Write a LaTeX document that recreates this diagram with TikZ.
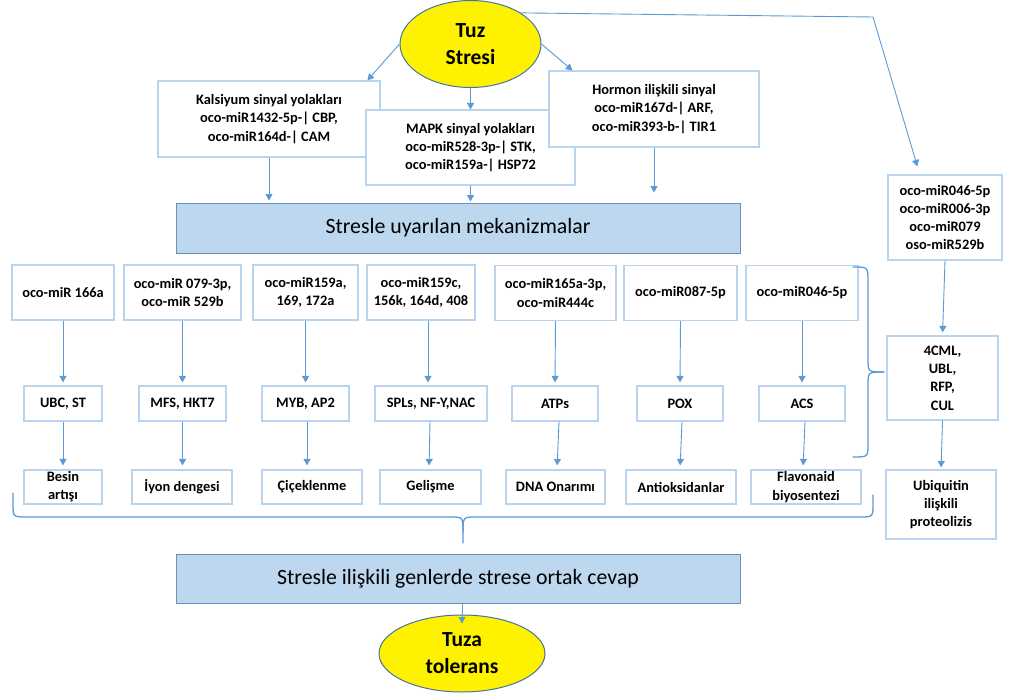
\documentclass[tikz,border=0pt]{standalone}
\usepackage{fontspec}
\setmainfont{Carlito}
\usetikzlibrary{shapes.geometric,arrows.meta,calc}
\definecolor{boxc}{RGB}{185,212,238}
\definecolor{arrc}{RGB}{91,155,213}
\definecolor{bluefill}{RGB}{189,215,238}
\definecolor{bluebd}{RGB}{105,145,190}
\definecolor{ellbd}{RGB}{70,115,160}
\begin{document}
\begin{tikzpicture}[x=1pt,y=-1pt,
  box/.style={draw=boxc, line width=1.2pt, fill=white, align=center, inner sep=0pt,
    font=\bfseries\fontsize{14.4}{18.3}\selectfont},
  bluebox/.style={draw=bluebd, fill=bluefill, line width=1pt, inner sep=0pt,
    font=\fontsize{21.8}{26}\selectfont},
  ell/.style={ellipse, draw=ellbd, fill=yellow, line width=1pt, align=center, inner sep=0pt,
    font=\bfseries\fontsize{21.5}{27}\selectfont},
  arr/.style={draw=arrc, line width=0.9pt, -{Triangle[width=7pt,length=6.5pt]}},
  brace/.style={draw=arrc, line width=1.3pt, line cap=round}
]
\fill[white] (0,0) rectangle (1009,693);
\useasboundingbox (0,0) rectangle (1009,693);

% top
\node[ell, minimum width=141pt, minimum height=87pt] (tuz) at (470.5,44) {Tuz\\Stresi};
\node[box, minimum width=222pt, minimum height=76pt] (kal) at (269,119)
  {Kalsiyum sinyal yolakları\\oco-miR1432-5p-| CBP,\\oco-miR164d-| CAM};
\node[box, minimum width=209pt, minimum height=75pt] (mapk) at (470.5,147.5)
  {MAPK sinyal yolakları\\oco-miR528-3p-| STK,\\oco-miR159a-| HSP72};
\node[box, minimum width=210pt, minimum height=76pt] (horm) at (654,109)
  {Hormon ilişkili sinyal\\oco-miR167d-| ARF,\\oco-miR393-b-| TIR1};

\node[bluebox, minimum width=564pt, minimum height=50pt] (b1) at (458,228)
  {Stresle uyarılan mekanizmalar};

% right column
\node[box, minimum width=114pt, minimum height=85pt] (tr) at (945,217.5)
  {oco-miR046-5p\\oco-miR006-3p\\oco-miR079\\oso-miR529b};
\node[box, minimum width=111pt, minimum height=84pt] (cml) at (942.5,378)
  {4CML,\\UBL,\\RFP,\\CUL};
\node[box, minimum width=110pt, minimum height=69pt] (ubi) at (941,504.5)
  {Ubiquitin\\ilişkili\\proteolizis};

% row 1
\node[box, minimum width=102pt, minimum height=55pt] (r1a) at (63,292.5) {oco-miR 166a};
\node[box, minimum width=117pt, minimum height=55pt] (r1b) at (182.5,292.5) {oco-miR 079-3p,\\oco-miR 529b};
\node[box, minimum width=105pt, minimum height=55pt] (r1c) at (305.5,292.5) {oco-miR159a,\\169, 172a};
\node[box, minimum width=108pt, minimum height=55pt] (r1d) at (421,292.5) {oco-miR159c,\\156k, 164d, 408};
\node[box, minimum width=121pt, minimum height=55pt] (r1e) at (555.5,293) {oco-miR165a-3p,\\oco-miR444c};
\node[box, minimum width=113pt, minimum height=55pt] (r1f) at (680.5,293) {oco-miR087-5p};
\node[box, minimum width=112pt, minimum height=55pt] (r1g) at (802,293) {oco-miR046-5p};

% row 2
\node[box, minimum width=78pt, minimum height=35pt] (r2a) at (63,403.5) {UBC, ST};
\node[box, minimum width=87pt, minimum height=35pt] (r2b) at (182.5,403.5) {MFS, HKT7};
\node[box, minimum width=87pt, minimum height=35pt] (r2c) at (305.5,403.5) {MYB, AP2};
\node[box, minimum width=112pt, minimum height=35pt] (r2d) at (431,403.5) {SPLs, NF-Y,NAC};
\node[box, minimum width=86pt, minimum height=35pt] (r2e) at (555,403.5) {ATPs};
\node[box, minimum width=86pt, minimum height=35pt] (r2f) at (680,403.5) {POX};
\node[box, minimum width=86pt, minimum height=35pt] (r2g) at (802,403.5) {ACS};

% row 3
\node[box, minimum width=78pt, minimum height=34pt] (r3a) at (63,487) {Besin\\artışı};
\node[box, minimum width=100pt, minimum height=34pt] (r3b) at (182,487) {İyon dengesi};
\node[box, minimum width=100pt, minimum height=34pt] (r3c) at (312,487) {Çiçeklenme};
\node[box, minimum width=101pt, minimum height=34pt] (r3d) at (430.5,487) {Gelişme};
\node[box, minimum width=99pt, minimum height=34pt] (r3e) at (555.5,487) {DNA Onarımı};
\node[box, minimum width=110pt, minimum height=34pt] (r3f) at (681,487) {Antioksidanlar};
\node[box, minimum width=110pt, minimum height=34pt] (r3g) at (806,487) {Flavonaid\\biyosentezi};

% bottom
\node[bluebox, minimum width=564pt, minimum height=49pt] (b2) at (458,578.5)
  {Stresle ilişkili genlerde strese ortak cevap};
\node[ell, minimum width=166pt, minimum height=77pt] (tol) at (462,653.5) {Tuza\\tolerans};

% arrows from top ellipse
\draw[arr] (tuz.west) -- ($(kal.north west)+(210,0)$);
\draw[arr] (tuz.south) -- (mapk.north);
\draw[arr] (tuz.east) -- ($(horm.north west)+(24,0)$);
\coordinate (kink) at (873,17);
\draw[arr] (tuz.north east) -- (kink) -- ($(tr.north west)+(30,-8)$);

% to blue box 1
\draw[arr, shorten >=2pt] (kal.south) -- (kal.south |- b1.north);
\draw[arr, shorten >=1pt] (mapk.south) -- (mapk.south |- b1.north);
\draw[arr, shorten >=10pt] (horm.south) -- (horm.south |- b1.north);

% right column arrows
\draw[arr, shorten >=3pt] (tr.south) -- (cml.north);
\draw[arr, shorten >=2pt] (cml.south) -- (ubi.north);

% row1 -> row2
\draw[arr, shorten >=3pt] (r1a.south) -- (r2a.north);
\draw[arr, shorten >=3pt] (r1b.south) -- (r2b.north);
\draw[arr, shorten >=3pt] (r1c.south) -- (r2c.north);
\draw[arr, shorten >=3pt] ($(r1d.south)+(7,0)$) -- ($(r2d.north)+(-3,0)$);
\draw[arr, shorten >=3pt] (r1e.south) -- (r2e.north);
\draw[arr, shorten >=3pt] (r1f.south) -- (r2f.north);
\draw[arr, shorten >=3pt] (r1g.south) -- (r2g.north);

% row2 -> row3
\draw[arr, shorten >=4pt] (r2a.south) -- (r2a.south |- r3a.north);
\draw[arr, shorten >=4pt] (r2b.south) -- (r2b.south |- r3b.north);
\draw[arr, shorten >=4pt] ($(r2c.south)+(1.5,0)$) -- ($(r2c.south |- r3c.north)+(1.5,0)$);
\draw[arr, shorten >=4pt] ($(r2d.south)+(-1,0)$) -- ($(r2d.south |- r3d.north)+(-2,0)$);
\draw[arr, shorten >=4pt] ($(r2e.south)+(4,0)$) -- ($(r2e.south |- r3e.north)+(2,0)$);
\draw[arr, shorten >=4pt] ($(r2f.south)+(2,0)$) -- (r2f.south |- r3f.north);
\draw[arr, shorten >=4pt] ($(r2g.south)+(3,0)$) -- ($(r2g.south |- r3g.north)+(1,0)$);

% right brace
\draw[brace] (853,267) .. controls (868,267) .. (868,281) -- (868,359)
  .. controls (868,372) .. (884,372);
\draw[brace] (884,372) .. controls (868,372) .. (868,385) -- (868,444)
  .. controls (868,457) .. (853,457);

% bottom brace
\draw[brace] (13,493) -- (13,504) .. controls (13,517) .. (27,517) -- (450,517)
  .. controls (463,517) .. (463,532) -- (463,543);
\draw[brace] (463,532) .. controls (463,517) .. (476,517) -- (859,517)
  .. controls (873,517) .. (873,504) -- (873,495);

% to tolerance
\draw[arr] (b2.south -| tol.north) -- ([yshift=-9pt]tol.north);
\end{tikzpicture}
\end{document}
